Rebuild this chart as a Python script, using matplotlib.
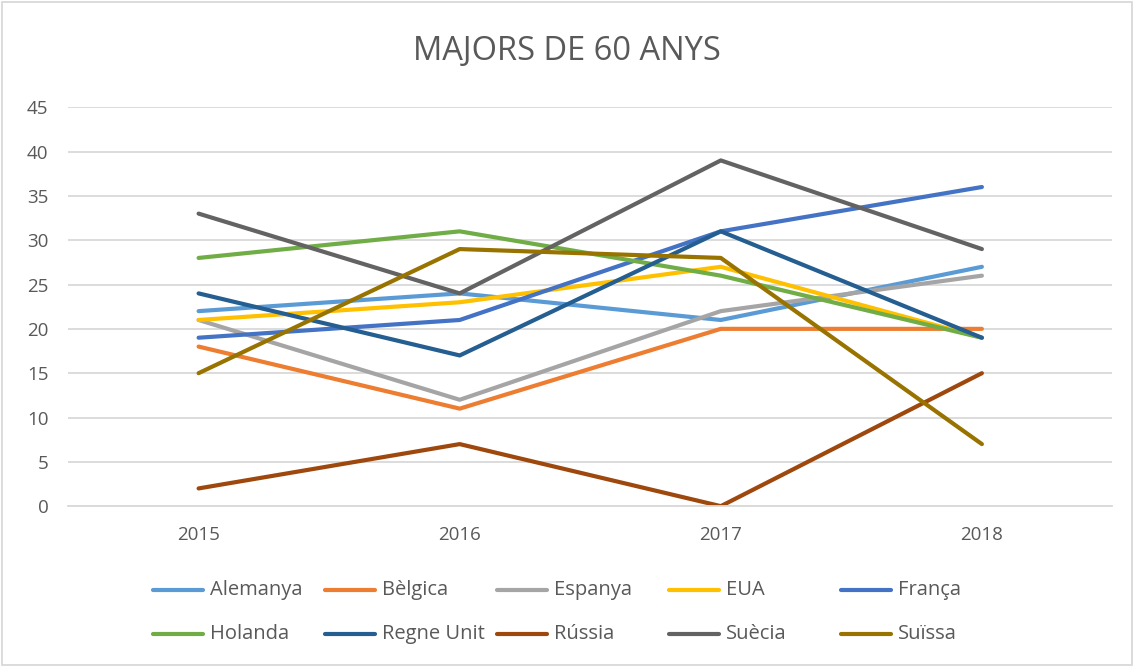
import matplotlib
matplotlib.use('Agg')
import matplotlib.pyplot as plt
from matplotlib.patches import Rectangle
from matplotlib.lines import Line2D

years = ['2015', '2016', '2017', '2018']
countries = ['Alemanya', 'Bèlgica', 'Espanya', 'EUA', 'França',
             'Holanda', 'Regne Unit', 'Rússia', 'Suècia', 'Suïssa']
alemanya = [22, 24, 21, 27]
belgica = [18, 11, 20, 20]
espanya = [21, 12, 22, 26]
eua = [21, 23, 27, 19]
franca = [19, 21, 31, 36]
holanda = [28, 31, 26, 19]
regne_unit = [24, 17, 31, 19]
russia = [2, 7, 0, 15]
suecia = [33, 24, 39, 29]
suissa = [15, 29, 28, 7]
series = [alemanya, belgica, espanya, eua, franca,
          holanda, regne_unit, russia, suecia, suissa]
colors = ['#5B9BD5', '#ED7D31', '#A5A5A5', '#FFC000', '#4472C4',
          '#70AD47', '#255E91', '#9E480E', '#636363', '#997300']

plt.rcParams['font.family'] = ['Open Sans', 'DejaVu Sans']
text_color = '#595959'

W, H = 1134, 666
fig = plt.figure(figsize=(W / 100, H / 100), dpi=100)
ax = fig.add_axes([0.060, 0.240, 0.921, 0.599])

x = range(len(years))
for name, vals, col in zip(countries, series, colors):
    ax.plot(x, vals, color=col, lw=3, solid_capstyle='round',
            solid_joinstyle='round', label=name)

ax.set_xlim(-0.5, 3.5)
ax.set_ylim(0, 45)
ax.set_yticks(range(0, 46, 5))
ax.set_xticks(list(x))
ax.set_xticklabels(years)
ax.grid(axis='y', color='#D9D9D9', lw=1.3)
ax.set_axisbelow(True)
for s in ['top', 'right', 'left']:
    ax.spines[s].set_visible(False)
ax.spines['bottom'].set_color('#D9D9D9')
ax.spines['bottom'].set_linewidth(1.3)
ax.tick_params(length=0, labelsize=13.5, colors=text_color)
ax.tick_params(axis='x', pad=14)
ax.tick_params(axis='y', pad=14)

fig.text(0.5, 1 - 52 / H, 'MAJORS DE 60 ANYS', ha='center', va='center',
         fontsize=23.5, color=text_color)

# legend laid out like Excel: fixed column pitch, row by row
for i, (name, col) in enumerate(zip(countries, colors)):
    r, c = divmod(i, 5)
    x0 = 153 + 172 * c
    y0 = 1 - (590 + 44 * r) / H
    fig.add_artist(Line2D([x0 / W, (x0 + 50) / W], [y0, y0], color=col, lw=3,
                          solid_capstyle='round', transform=fig.transFigure))
    fig.text((x0 + 57) / W, y0, name, ha='left', va='center',
             fontsize=14.5, color=text_color)

fig.patches.append(Rectangle((0.002, 0.002), 0.996, 0.995, transform=fig.transFigure,
                             fill=False, edgecolor='#D9D9D9', lw=1.3))

fig.savefig('out.png', dpi=100, facecolor='white')
